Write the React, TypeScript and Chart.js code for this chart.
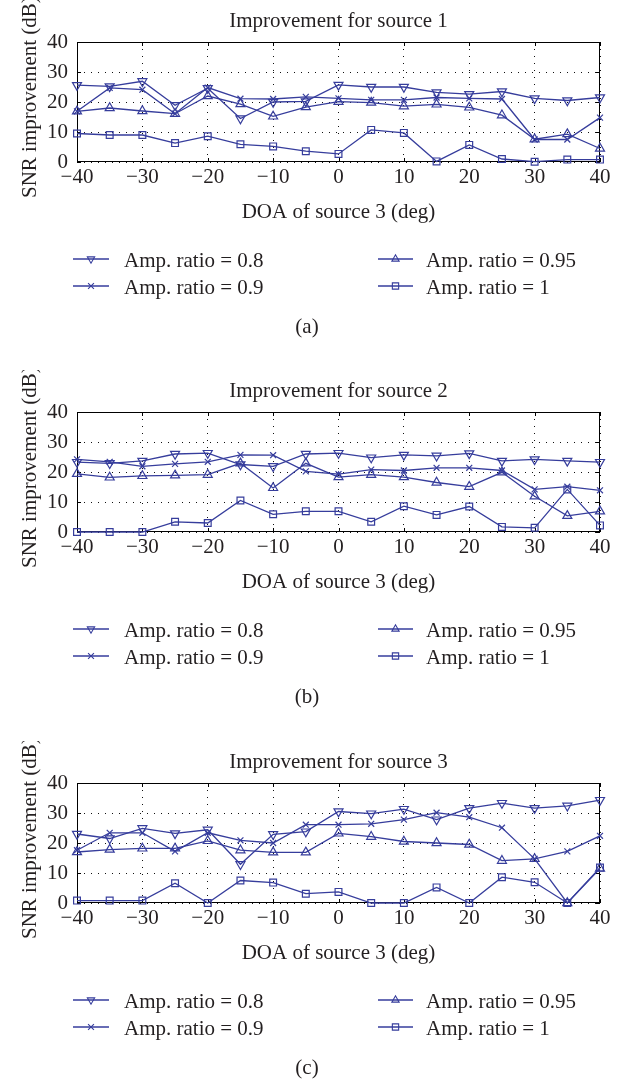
import React, { useEffect, useRef } from "react";
import { Chart, registerables } from "chart.js";

Chart.register(...registerables);

// ---------------- data ----------------
const DOA = [-40, -35, -30, -25, -20, -15, -10, -5, 0, 5, 10, 15, 20, 25, 30, 35, 40];
const X_TICKS = [-40, -30, -20, -10, 0, 10, 20, 30, 40];
const Y_TICKS = [0, 10, 20, 30, 40];

const SERIES_LABELS = ["Amp. ratio = 0.8", "Amp. ratio = 0.9", "Amp. ratio = 0.95", "Amp. ratio = 1"];
const PANEL_TITLES = ["Improvement for source 1", "Improvement for source 2", "Improvement for source 3"];
const PANEL_TAGS = ["(a)", "(b)", "(c)"];
const X_TITLE = "DOA of source 3 (deg)";
const Y_TITLE = "SNR improvement (dB)";

// source 1
const S1_R08 = [25.6, 25.2, 26.9, 18.9, 24.6, 14.5, 20.0, 20.2, 25.7, 25.0, 25.0, 23.2, 22.6, 23.5, 21.2, 20.5, 21.5];
const S1_R09 = [16.9, 24.7, 24.1, 16.1, 24.8, 21.1, 21.0, 21.7, 21.2, 20.7, 20.7, 21.5, 21.2, 21.0, 7.5, 7.5, 14.8];
const S1_R095 = [16.9, 18.0, 17.0, 16.1, 22.0, 19.3, 15.2, 18.3, 20.1, 19.8, 18.6, 19.2, 18.2, 15.6, 7.6, 9.3, 4.5];
const S1_R1 = [9.5, 9.0, 9.0, 6.3, 8.6, 5.9, 5.2, 3.6, 2.7, 10.7, 9.7, 0.2, 5.7, 1.0, 0.1, 0.8, 0.8];

// source 2
const S2_R08 = [23.3, 22.9, 23.7, 26.0, 26.3, 22.5, 21.9, 26.0, 26.3, 24.8, 25.7, 25.4, 26.2, 23.7, 24.2, 23.7, 23.3];
const S2_R09 = [24.2, 23.4, 21.9, 22.7, 23.4, 25.7, 25.6, 20.2, 19.3, 20.8, 20.5, 21.4, 21.4, 20.5, 14.2, 15.1, 13.9];
const S2_R095 = [19.4, 18.2, 18.7, 18.9, 19.1, 22.9, 14.7, 22.9, 18.3, 19.1, 18.3, 16.5, 15.1, 19.9, 11.9, 5.4, 6.9];
const S2_R1 = [0, 0, 0, 3.4, 3.0, 10.5, 5.9, 6.9, 6.9, 3.4, 8.6, 5.7, 8.5, 1.7, 1.4, 14.2, 2.2];

// source 3
const S3_R08 = [23.0, 21.5, 24.9, 23.2, 24.4, 12.9, 22.9, 23.8, 30.5, 29.8, 31.3, 27.8, 31.6, 33.3, 31.6, 32.4, 34.3];
const S3_R09 = [17.6, 23.4, 23.4, 17.2, 23.4, 20.9, 20.0, 26.1, 26.1, 26.4, 27.8, 30.1, 28.6, 25.1, 14.7, 17.2, 22.4];
const S3_R095 = [17.0, 17.8, 18.2, 18.2, 20.7, 17.6, 16.9, 16.9, 23.2, 22.1, 20.5, 20.0, 19.5, 14.1, 14.7, 0, 11.5];
const S3_R1 = [0.8, 0.8, 0.8, 6.6, 0, 7.5, 6.8, 3.1, 3.7, 0, 0, 5.2, 0, 8.6, 6.9, 0, 11.8];

const PANEL_DATA = [
  [S1_R08, S1_R09, S1_R095, S1_R1],
  [S2_R08, S2_R09, S2_R095, S2_R1],
  [S3_R08, S3_R09, S3_R095, S3_R1],
];

// ---------------- styles ----------------
const BLUE = "#363d9c";
const TEXT = "#231f20";
const FONT_FAMILY = '"Liberation Serif", "DejaVu Serif", serif';
const FONT_SIZE = 21;
const MARKERS = ["down", "cross", "up", "square"];

const PANEL_TOPS = [0, 370, 741];
const PAGE_H = 1080;
const PLOT_LEFT = 77;
const PLOT_RIGHT = 600;
const PLOT_TOP = 42;
const PLOT_H = 120;
const W = 628;

const fmtTick = (v: number) => (v < 0 ? "\u2212" + Math.abs(v) : String(v));

function drawMarker(ctx: CanvasRenderingContext2D, kind: string, x: number, y: number, r: number) {
  ctx.beginPath();
  if (kind === "down") {
    ctx.moveTo(x - r * 0.866, y - r * 0.5);
    ctx.lineTo(x + r * 0.866, y - r * 0.5);
    ctx.lineTo(x, y + r);
    ctx.closePath();
  } else if (kind === "up") {
    ctx.moveTo(x - r * 0.866, y + r * 0.5);
    ctx.lineTo(x + r * 0.866, y + r * 0.5);
    ctx.lineTo(x, y - r);
    ctx.closePath();
  } else if (kind === "square") {
    const s = r * 0.75;
    ctx.rect(x - s, y - s, 2 * s, 2 * s);
  } else {
    const s = r * 0.7;
    ctx.moveTo(x - s, y - s);
    ctx.lineTo(x + s, y + s);
    ctx.moveTo(x + s, y - s);
    ctx.lineTo(x - s, y + s);
  }
  ctx.stroke();
}

function makeConfig(idx: number, height: number): any {
  const series = PANEL_DATA[idx];
  const styleFor = (k: number) => {
    if (k === 0) return { pointStyle: "triangle", rotation: 180, pointRadius: 5.2 };
    if (k === 1) return { pointStyle: "crossRot", rotation: 0, pointRadius: 4.2 };
    if (k === 2) return { pointStyle: "triangle", rotation: 0, pointRadius: 5.2 };
    return { pointStyle: "rect", rotation: 0, pointRadius: 4.8 };
  };

  const framePlugin = {
    id: "frame",
    beforeDatasetsDraw(chart: any) {
      const { ctx, chartArea: a, scales } = chart;
      ctx.save();
      ctx.strokeStyle = "#000";
      ctx.lineWidth = 1;
      ctx.setLineDash([]);
      ctx.strokeRect(a.left + 0.5, a.top + 0.5, a.right - a.left - 1, a.bottom - a.top - 1);
      ctx.beginPath();
      const tl = 4;
      for (const v of X_TICKS) {
        const px = Math.round(scales.x.getPixelForValue(v)) + 0.5;
        ctx.moveTo(px, a.bottom);
        ctx.lineTo(px, a.bottom - tl);
        ctx.moveTo(px, a.top);
        ctx.lineTo(px, a.top + tl);
      }
      for (const v of Y_TICKS) {
        const py = Math.round(scales.y.getPixelForValue(v)) + 0.5;
        ctx.moveTo(a.left, py);
        ctx.lineTo(a.left + tl, py);
        ctx.moveTo(a.right, py);
        ctx.lineTo(a.right - tl, py);
      }
      ctx.stroke();
      ctx.restore();
    },
    afterDraw(chart: any) {
      const { ctx, chartArea: a } = chart;
      const cx = (a.left + a.right) / 2;
      ctx.save();
      ctx.fillStyle = TEXT;
      ctx.font = `${FONT_SIZE}px ${FONT_FAMILY}`;
      ctx.textBaseline = "alphabetic";
      ctx.textAlign = "center";
      ctx.fillText(PANEL_TITLES[idx], cx, 27);
      ctx.fillText(X_TITLE, cx, 218);
      ctx.fillText(PANEL_TAGS[idx], 307, 333);
      // y title
      ctx.save();
      ctx.translate(36, 198);
      ctx.rotate(-Math.PI / 2);
      ctx.textAlign = "left";
      ctx.fillText(Y_TITLE, 0, 0);
      ctx.restore();
      // legend
      const cols = [
        { x0: 73, x1: 109, tx: 124 },
        { x0: 378, x1: 413, tx: 426 },
      ];
      const rows = [259, 286];
      ctx.textAlign = "left";
      for (let k = 0; k < 4; k++) {
        const c = cols[Math.floor(k / 2)];
        const ry = rows[k % 2];
        ctx.strokeStyle = BLUE;
        ctx.lineWidth = 1.3;
        ctx.beginPath();
        ctx.moveTo(c.x0, ry);
        ctx.lineTo(c.x1, ry);
        ctx.stroke();
        ctx.lineWidth = 1.1;
        drawMarker(ctx, MARKERS[k], (c.x0 + c.x1) / 2, ry, 4.2);
        ctx.fillStyle = TEXT;
        ctx.fillText(SERIES_LABELS[k], c.tx, ry + 8);
      }
      ctx.restore();
    },
  };

  return {
    type: "line",
    data: {
      datasets: series.map((vals, k) => ({
        label: SERIES_LABELS[k],
        data: DOA.map((x, i) => ({ x, y: vals[i] })),
        borderColor: BLUE,
        borderWidth: 1.3,
        pointBorderColor: BLUE,
        pointBackgroundColor: "rgba(255,255,255,0)",
        pointBorderWidth: 1.2,
        tension: 0,
        fill: false,
        clip: false,
        ...styleFor(k),
      })),
    },
    options: {
      responsive: false,
      maintainAspectRatio: false,
      animation: false,
      devicePixelRatio: 1,
      events: [],
      layout: { padding: { left: 0, right: W - PLOT_RIGHT, top: PLOT_TOP, bottom: 0 } },
      plugins: {
        legend: { display: false },
        title: { display: false },
        tooltip: { enabled: false },
      },
      scales: {
        x: {
          type: "linear",
          min: -40,
          max: 40,
          afterBuildTicks: (s: any) => {
            s.ticks = X_TICKS.map((v) => ({ value: v }));
          },
          afterFit: (s: any) => {
            s.height = height - PLOT_TOP - PLOT_H;
          },
          ticks: {
            callback: (v: any) => fmtTick(Number(v)),
            font: { family: FONT_FAMILY, size: FONT_SIZE },
            color: TEXT,
            padding: 3,
            maxRotation: 0,
            autoSkip: false,
          },
          grid: { color: "#111", lineWidth: 1, drawTicks: false },
          border: { display: false, dash: [1, 6] },
        },
        y: {
          type: "linear",
          min: 0,
          max: 40,
          afterBuildTicks: (s: any) => {
            s.ticks = Y_TICKS.map((v) => ({ value: v }));
          },
          afterFit: (s: any) => {
            s.width = PLOT_LEFT;
          },
          ticks: {
            callback: (v: any) => fmtTick(Number(v)),
            font: { family: FONT_FAMILY, size: FONT_SIZE },
            color: TEXT,
            padding: 9,
          },
          grid: { color: "#111", lineWidth: 1, drawTicks: false },
          border: { display: false, dash: [1, 6] },
        },
      },
    },
    plugins: [framePlugin],
  };
}

function Panel({ idx }: { idx: number }) {
  const ref = useRef<HTMLCanvasElement>(null);
  const top = PANEL_TOPS[idx];
  const height = Math.min(370, PAGE_H - top);
  useEffect(() => {
    const chart = new Chart(ref.current as HTMLCanvasElement, makeConfig(idx, height));
    return () => chart.destroy();
  }, [idx, height]);
  return (
    <canvas
      ref={ref}
      width={W}
      height={height}
      style={{ position: "absolute", left: 0, top, width: W, height, display: "block" }}
    />
  );
}

export default function App() {
  useEffect(() => {
    document.body.style.overflow = "hidden";
  }, []);
  return (
    <div style={{ position: "absolute", left: 0, top: 0, width: W, height: PAGE_H, background: "#fff", overflow: "hidden" }}>
      <Panel idx={0} />
      <Panel idx={1} />
      <Panel idx={2} />
    </div>
  );
}
